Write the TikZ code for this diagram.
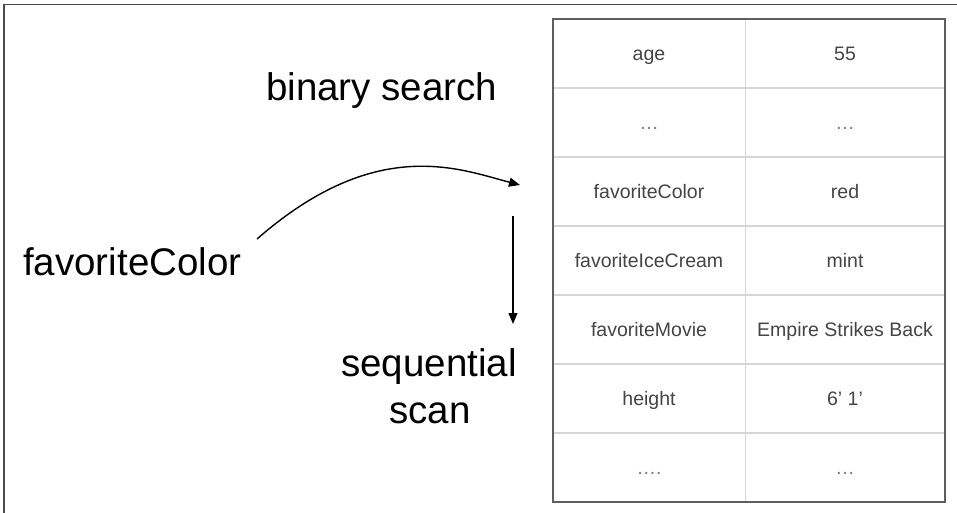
\documentclass[tikz,border=0pt]{standalone}
\usepackage{fontspec}
\setmainfont{Liberation Sans}
\usetikzlibrary{arrows.meta}

\definecolor{frameline}{HTML}{4A4A4A}
\definecolor{tableedge}{HTML}{5E5E5E}
\definecolor{gridline}{HTML}{D6D6D6}
\definecolor{celltext}{HTML}{444444}
\definecolor{dotstext}{HTML}{7A7A7A}

\tikzset{
  biglabel/.style={inner sep=0pt, anchor=base west, text=black,
    font=\fontsize{38.5}{46}\selectfont},
  bigcentered/.style={inner sep=0pt, anchor=base, text=black,
    font=\fontsize{38.5}{46}\selectfont},
  cell/.style={inner sep=0pt, anchor=base, text=celltext,
    font=\fontsize{19.5}{23}\selectfont},
  pointer/.style={line width=1.4pt, draw=black,
    -{Triangle[length=11pt,width=9pt]}},
}

\newcommand{\elided}[1]{\textcolor{dotstext}{#1}}

\begin{document}
\begin{tikzpicture}[x=1pt,y=-1pt]
  \useasboundingbox (0,0) rectangle (957,513);

  % page frame: top and left edges only
  \draw[frameline, line width=1.5pt] (957,4.5) -- (4,4.5) -- (4,513);

  % table grid: 7 rows of 69, split at x = 745.7
  \foreach \r in {1,...,6}
    \draw[gridline, line width=1.5pt] (553,19+69*\r) -- (945,19+69*\r);
  \draw[gridline, line width=1.5pt] (745.7,19) -- (745.7,502);
  \draw[tableedge, line width=1.3pt] (553,19) rectangle (945,502);

  % cell contents (baseline = row centre + 6.7)
  \foreach \k/\v [count=\i] in {age/55, \elided{…}/\elided{…}, favoriteColor/red,
      favoriteIceCream/mint, favoriteMovie/Empire Strikes Back,
      height/6’ 1’, \elided{….}/\elided{…}} {
    \node[cell] (key\i) at (649,19+69*\i-34.5+6.7) {\k};
    \node[cell] (val\i) at (845,19+69*\i-34.5+6.7) {\v};
  }

  % labels
  \node[biglabel] (bs) at (266,101) {binary search};
  \node[biglabel] (fc) at (23,275) {favoriteColor};
  \node[bigcentered] (seq) at (429,376.7) {sequential};
  \node[bigcentered] (scan) at (430,423) {scan};

  % arrow anchors
  \coordinate (lookupStart) at (257,239);
  \coordinate (lookupEnd) at (520,185);
  \coordinate (scanStart) at (513,216);
  \coordinate (scanEnd) at (513,324);

  \draw[pointer] (lookupStart) .. controls (376,135) and (459,169) .. (lookupEnd);
  \draw[pointer] (scanStart) -- (scanEnd);
\end{tikzpicture}
\end{document}
